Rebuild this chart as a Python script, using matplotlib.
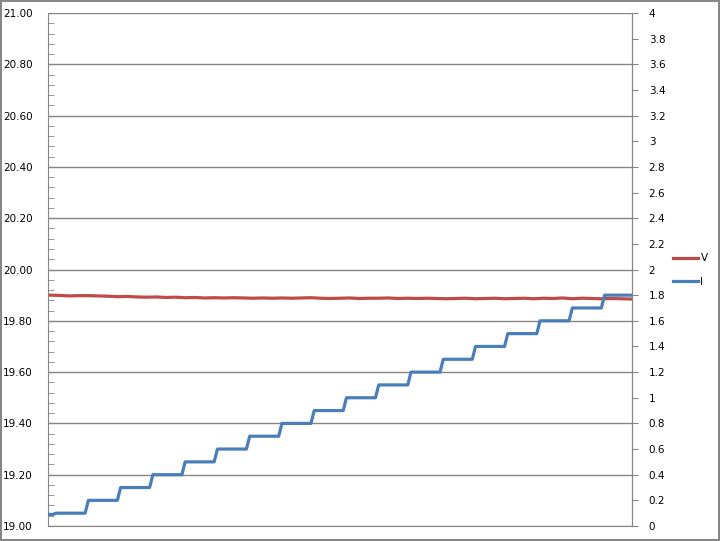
import numpy as np
import matplotlib
matplotlib.use('Agg')
import matplotlib.pyplot as plt
from matplotlib.ticker import MultipleLocator, FuncFormatter

# voltage readings, every 3rd sample
V = [19.900, 19.899, 19.897, 19.898, 19.898, 19.897, 19.896, 19.894, 19.895, 19.893,
     19.892, 19.893, 19.891, 19.892, 19.890, 19.891, 19.889, 19.890, 19.889, 19.890,
     19.889, 19.888, 19.889, 19.888, 19.889, 19.888, 19.889, 19.890, 19.888, 19.887,
     19.888, 19.889, 19.887, 19.888, 19.888, 19.889, 19.887, 19.888, 19.887, 19.888,
     19.887, 19.886, 19.887, 19.888, 19.886, 19.887, 19.888, 19.886, 19.887, 19.888,
     19.886, 19.888, 19.887, 19.889, 19.886, 19.888, 19.887, 19.886, 19.887, 19.886,
     19.885]
V_step = 3

# current: level held from start index onward
I_levels = [0.09, 0.10, 0.2, 0.3, 0.4, 0.5, 0.6, 0.7, 0.8, 0.9, 1.0,
            1.1, 1.2, 1.3, 1.4, 1.5, 1.6, 1.7, 1.8]
I_starts = [0, 2, 12, 22, 32, 42, 52, 62, 72, 82, 92,
            102, 112, 122, 132, 142, 152, 162, 172]
n_samples = 181

I = np.repeat(I_levels, np.diff(I_starts + [n_samples]))
x_i = np.arange(n_samples)
x_v = np.arange(len(V)) * V_step

grey = '#868686'
red = '#BE4B48'
blue = '#4A7EBB'

fig = plt.figure(figsize=(7.2, 5.41), dpi=100)
fig.patch.set_edgecolor(grey)
fig.patch.set_linewidth(1.5)

ax = fig.add_axes([48/720, 15/541, 584/720, 513/541])
ax2 = ax.twinx()

lv, = ax.plot(x_v, V, color=red, lw=2.3, label='V')
li, = ax2.plot(x_i, I, color=blue, lw=2.3, label='I')

ax.set_xlim(-0.5, n_samples - 0.5)
ax.set_ylim(19, 21)
ax2.set_ylim(0, 4)

ax.yaxis.set_major_locator(MultipleLocator(0.2))
ax.yaxis.set_minor_locator(MultipleLocator(0.04))
ax.yaxis.set_major_formatter(FuncFormatter(lambda v, p: '%.2f' % v))
ax2.yaxis.set_major_locator(MultipleLocator(0.2))
ax2.yaxis.set_major_formatter(FuncFormatter(lambda v, p: '%g' % round(v, 1)))

ax.grid(axis='y', which='major', color=grey, lw=1)
ax.set_axisbelow(True)
ax.set_xticks([])

ax.tick_params(axis='y', which='both', direction='in', length=4, color=grey,
               labelsize=7.5, pad=11)
ax2.tick_params(axis='y', direction='out', length=4, color=grey,
                labelsize=7.5, pad=8)

for a in (ax, ax2):
    a.spines['top'].set_visible(False)
    for s in ('left', 'right', 'bottom'):
        a.spines[s].set_color(grey)
ax2.spines['left'].set_visible(False)
ax2.spines['bottom'].set_visible(False)

fig.legend(handles=[lv, li], loc='center left', bbox_to_anchor=(664/720, 1 - 270/541),
           frameon=False, fontsize=7.5, handlelength=2.4, handletextpad=0.2,
           labelspacing=1.3)

plt.savefig('out.png', dpi=100)
